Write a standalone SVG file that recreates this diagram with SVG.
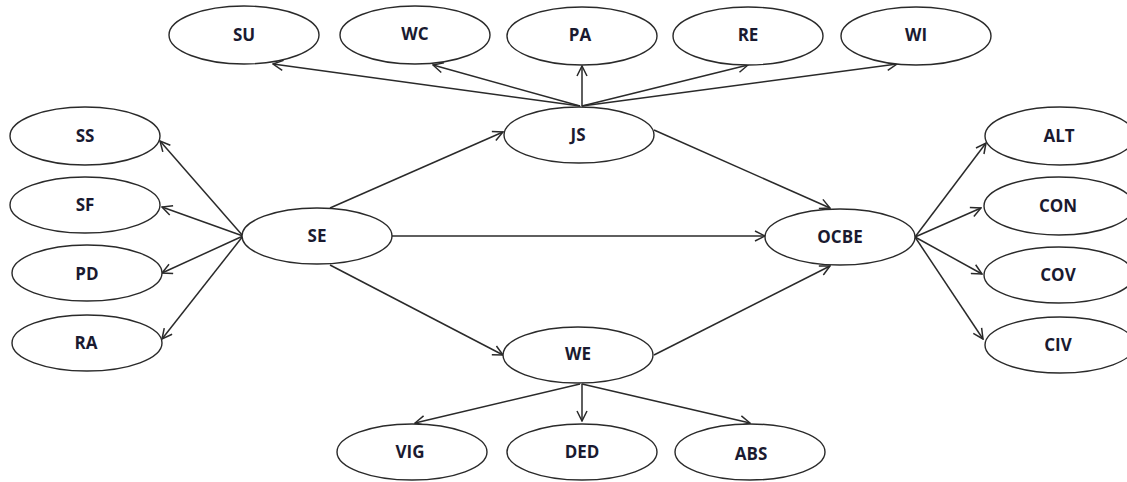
<svg xmlns="http://www.w3.org/2000/svg" width="1127" height="482" viewBox="0 0 1127 482">
<defs>
<style>
.n ellipse{fill:#fff;stroke:#2a2a2a;stroke-width:1.4}
.n text{font-family:"Open Sans","DejaVu Sans",sans-serif;font-weight:bold;font-size:17px;fill:#1a1a30;text-anchor:middle;dominant-baseline:central}
.c line{stroke:#2a2a2a;stroke-width:1.5;marker-end:url(#arr)}
</style>
<marker id="arr" viewBox="0 0 12 12" refX="11" refY="6" markerWidth="12" markerHeight="12" markerUnits="userSpaceOnUse" orient="auto">
<path d="M1,1 L11,6 L1,11" fill="none" stroke="#2a2a2a" stroke-width="1.5"/>
</marker>
</defs>
<rect width="1127" height="482" fill="#fff"/>
<g class="c" id="connectors">
<line x1="580" y1="106" x2="273" y2="64"/>
<line x1="580" y1="106" x2="433" y2="65"/>
<line x1="582" y1="106" x2="582" y2="66"/>
<line x1="582" y1="106" x2="748" y2="65"/>
<line x1="582" y1="106" x2="897" y2="64"/>
<line x1="243" y1="236" x2="160" y2="141"/>
<line x1="243" y1="236" x2="162" y2="207"/>
<line x1="243" y1="236" x2="162" y2="273"/>
<line x1="243" y1="236" x2="162" y2="339"/>
<line x1="330" y1="208" x2="503" y2="132"/>
<line x1="392" y1="236" x2="765" y2="236"/>
<line x1="330" y1="265" x2="503" y2="355"/>
<line x1="654" y1="130" x2="830" y2="208"/>
<line x1="654" y1="355" x2="830" y2="266"/>
<line x1="915" y1="237" x2="986" y2="143"/>
<line x1="915" y1="237" x2="981" y2="208"/>
<line x1="915" y1="237" x2="982" y2="274"/>
<line x1="915" y1="237" x2="983" y2="339"/>
<line x1="580" y1="384" x2="415" y2="423"/>
<line x1="582" y1="384" x2="582" y2="421"/>
<line x1="582" y1="384" x2="750" y2="423"/>
</g>
<g class="n" id="SU"><ellipse cx="244" cy="35" rx="75" ry="29"/><text x="244" y="34">SU</text></g>
<g class="n" id="WC"><ellipse cx="415" cy="35" rx="75" ry="29"/><text x="415" y="33">WC</text></g>
<g class="n" id="PA"><ellipse cx="582" cy="36" rx="75" ry="29"/><text x="580" y="34">PA</text></g>
<g class="n" id="RE"><ellipse cx="748" cy="36" rx="75" ry="29"/><text x="748" y="34">RE</text></g>
<g class="n" id="WI"><ellipse cx="916" cy="36" rx="75" ry="29"/><text x="916" y="34">WI</text></g>
<g class="n" id="JS"><ellipse cx="579" cy="135" rx="75" ry="28"/><text x="578" y="134">JS</text></g>
<g class="n" id="SS"><ellipse cx="85" cy="136" rx="75" ry="29"/><text x="85" y="135">SS</text></g>
<g class="n" id="SF"><ellipse cx="85" cy="205" rx="75" ry="28"/><text x="85" y="204">SF</text></g>
<g class="n" id="PD"><ellipse cx="87" cy="273" rx="75" ry="28"/><text x="87" y="273">PD</text></g>
<g class="n" id="RA"><ellipse cx="87" cy="343" rx="75" ry="28"/><text x="86" y="342">RA</text></g>
<g class="n" id="SE"><ellipse cx="317" cy="236" rx="75" ry="28"/><text x="317" y="235">SE</text></g>
<g class="n" id="OCBE"><ellipse cx="840" cy="237" rx="75" ry="28"/><text x="840" y="236">OCBE</text></g>
<g class="n" id="WE"><ellipse cx="578" cy="355" rx="75" ry="28"/><text x="578" y="353">WE</text></g>
<g class="n" id="ALT"><ellipse cx="1060" cy="136" rx="75" ry="29"/><text x="1059" y="135">ALT</text></g>
<g class="n" id="CON"><ellipse cx="1059" cy="206" rx="75" ry="29"/><text x="1058" y="205">CON</text></g>
<g class="n" id="COV"><ellipse cx="1059" cy="275" rx="75" ry="28"/><text x="1058" y="274">COV</text></g>
<g class="n" id="CIV"><ellipse cx="1060" cy="345" rx="75" ry="28"/><text x="1058" y="344">CIV</text></g>
<g class="n" id="VIG"><ellipse cx="412" cy="452" rx="75" ry="28"/><text x="410" y="451">VIG</text></g>
<g class="n" id="DED"><ellipse cx="582" cy="452" rx="75" ry="28"/><text x="582" y="451">DED</text></g>
<g class="n" id="ABS"><ellipse cx="750" cy="452" rx="75" ry="28"/><text x="751" y="453">ABS</text></g>
</svg>
